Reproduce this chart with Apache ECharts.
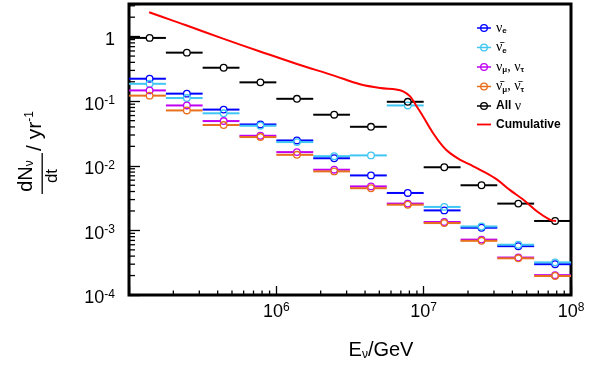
<!DOCTYPE html>
<html><head><meta charset="utf-8">
<script src="https://cdn.jsdelivr.net/npm/echarts@6.0.0/dist/echarts.min.js"></script>
<style>html,body{margin:0;padding:0;background:#fff}#c{width:600px;height:368px}</style>
</head><body><div id="c"></div>
<script>
// ---- data ----
const binLow    = [1.0e5, 1.78e5, 3.16e5, 5.62e5, 1.0e6, 1.78e6, 3.16e6, 5.62e6, 1.0e7, 1.78e7, 3.16e7, 5.62e7];
const binHigh   = [1.78e5, 3.16e5, 5.62e5, 1.0e6, 1.78e6, 3.16e6, 5.62e6, 1.0e7, 1.78e7, 3.16e7, 5.62e7, 1.0e8];
const binCenter = [1.38e5, 2.47e5, 4.39e5, 7.8e5, 1.38e6, 2.47e6, 4.39e6, 7.8e6, 1.38e7, 2.47e7, 4.39e7, 7.8e7];

const nuE     = [0.223, 0.131, 0.0742, 0.0437, 0.0247, 0.0131, 0.0071, 0.0038, 0.00204, 0.00110, 0.00057, 0.000300];
const nuEbar  = [0.186, 0.112, 0.065, 0.0417, 0.0233, 0.0141, 0.0145, 0.086, 0.00231, 0.00115, 0.00060, 0.000320];
const nuMuTau = [0.147, 0.086, 0.0493, 0.0292, 0.0163, 0.0087, 0.0048, 0.0026, 0.00135, 0.00072, 0.00038, 0.000203];
const nuMuTauBar = [0.122, 0.072, 0.0428, 0.0279, 0.0148, 0.0082, 0.0045, 0.0025, 0.0013, 0.00069, 0.00037, 0.000197];
const allNu   = [0.955, 0.565, 0.33, 0.196, 0.109, 0.0618, 0.0402, 0.098, 0.0095, 0.0050, 0.0026, 0.0014];

const cumE   = [1.37e5, 1.90e5, 2.44e5, 4.35e5, 7.75e5, 1.38e6, 2.46e6, 3.70e6, 5.06e6, 6.50e6, 7.25e6, 8.09e6, 8.88e6, 9.91e6, 1.16e7, 1.35e7, 1.51e7, 1.77e7, 2.07e7, 2.53e7, 3.15e7, 3.86e7, 4.73e7, 5.89e7, 7.21e7, 7.92e7];
const cumVal = [2.38, 1.83, 1.50, 0.93, 0.59, 0.377, 0.249, 0.183, 0.160, 0.152, 0.142, 0.119, 0.086, 0.058, 0.032, 0.020, 0.0157, 0.0124, 0.0104, 0.0082, 0.0061, 0.0042, 0.0030, 0.00196, 0.00146, 0.0014];

const xTickVals = [1e5, 1e6, 1e7, 1e8];
const yTickVals = [1e-4, 1e-3, 1e-2, 1e-1, 1];
const xMin = 1e5, xMax = 1e8, yMin = 1e-4, yMax = 3.2;

// ---- minor tick decoration values ----
const minorX = [], minorY = [];
for (let e = 5; e < 8; e++) for (let d = 2; d <= 9; d++) minorX.push(d * Math.pow(10, e));
for (let e = -4; e <= 0; e++) for (let d = 2; d <= 9; d++) { const v = d * Math.pow(10, e); if (v < yMax) minorY.push(v); }

const FONT = 'Liberation Sans';
const colors = {nue:'#0000ff', nuebar:'#3fc6f2', numu:'#c000f2', numubar:'#e8701c', all:'#000000', cum:'#ff0000'};

function expOf(v){ const l = Math.log10(v); const r = Math.round(l); return Math.abs(l - r) < 0.01 ? r : null; }
function powLabel(v, skip){
  const e = expOf(v);
  if (e === null || (skip && skip.indexOf(e) >= 0)) return '';
  if (e === 0) return '{b|1}';
  return '{b|10}{s|' + e + '}';
}
const powRich = {
  b: {fontFamily: FONT, fontSize: 18, color: '#000', lineHeight: 20},
  s: {fontFamily: FONT, fontSize: 12, color: '#000', lineHeight: 10, verticalAlign: 'top'}
};

function binSeries(name, vals, color){
  return {
    name: name, type: 'custom', coordinateSystem: 'cartesian2d', clip: false, silent: true,
    itemStyle: {color: color},
    encode: {x: [0, 1, 2], y: 3},
    data: binLow.map((l, i) => [l, binHigh[i], binCenter[i], vals[i]]),
    renderItem: function(params, api){
      const y = api.value(3);
      const pL = api.coord([api.value(0), y]);
      const pH = api.coord([api.value(1), y]);
      const pC = api.coord([api.value(2), y]);
      const r = 3.3;
      return {type: 'group', children: [
        {type: 'line', shape: {x1: pL[0], y1: pL[1], x2: pC[0] - r, y2: pC[1]}, style: {stroke: color, lineWidth: 2}},
        {type: 'line', shape: {x1: pC[0] + r, y1: pC[1], x2: pH[0], y2: pH[1]}, style: {stroke: color, lineWidth: 2}},
        {type: 'circle', shape: {cx: pC[0], cy: pC[1], r: r}, style: {fill: 'none', stroke: color, lineWidth: 1.3}}
      ]};
    }
  };
}

const ringIcon = 'path://M0,4.3L14,4.3L14,5.7L0,5.7Z M3,5A4,4 0 1,1 11,5A4,4 0 1,1 3,5Z M4.3,5A2.7,2.7 0 1,0 9.7,5A2.7,2.7 0 1,0 4.3,5Z';
const lineIcon = 'path://M0,4.1L14,4.1L14,5.9L0,5.9Z';

const legendNames = {
  nue: '{g|ν}{sb|e}',
  nuebar: '{g|ν\u0304}{sb|e}',
  numu: '{g|ν}{sb|μ}{g|, ν}{sb|τ}',
  numubar: '{g|ν\u0304}{sb|μ}{g|, ν\u0304}{sb|τ}',
  all: '{bd|All} {g|ν}',
  cum: '{bd|Cumulative}'
};

const tickData = minorX.map(v => [v, yMin, 0]).concat(minorY.map(v => [xMin, v, 1]));

const chart = echarts.init(document.getElementById('c'), null, {renderer: 'canvas'});
chart.setOption({
  animation: false,
  backgroundColor: '#fff',
  grid: {left: 129, right: 29, top: 4, bottom: 73, show: true, borderColor: '#000', borderWidth: 3, backgroundColor: 'transparent'},
  xAxis: {
    type: 'log', logBase: 10, min: xMin, max: xMax,
    axisLine: {show: false},
    axisTick: {show: true, inside: true, length: 9, lineStyle: {color: '#000', width: 1.3}},
    splitLine: {show: false},
    axisLabel: {margin: 7, formatter: v => powLabel(v, [5]), rich: powRich}
  },
  yAxis: {
    type: 'log', logBase: 10, min: yMin, max: yMax,
    axisLine: {show: false},
    axisTick: {show: true, inside: true, length: 11, lineStyle: {color: '#000', width: 1.3}},
    splitLine: {show: false},
    axisLabel: {margin: 14, padding: [7, 0, 0, 0], formatter: v => powLabel(v, []), rich: powRich}
  },
  legend: {
    orient: 'vertical', left: 472, top: 16, itemWidth: 14, itemHeight: 10, itemGap: 5.5,
    selectedMode: false,
    itemStyle: {borderWidth: 0},
    formatter: n => legendNames[n],
    textStyle: {
      rich: {
        g: {fontFamily: 'Liberation Serif', fontSize: 14, color: '#000', lineHeight: 14},
        sb: {fontFamily: FONT, fontSize: 8, fontWeight: 'bold', color: '#000', lineHeight: 8, verticalAlign: 'bottom'},
        bd: {fontFamily: FONT, fontSize: 12, fontWeight: 'bold', color: '#000', lineHeight: 14}
      }
    },
    data: [
      {name: 'nue', icon: ringIcon},
      {name: 'nuebar', icon: ringIcon},
      {name: 'numu', icon: ringIcon},
      {name: 'numubar', icon: ringIcon},
      {name: 'all', icon: ringIcon},
      {name: 'cum', icon: lineIcon}
    ]
  },
  series: [
    {
      name: 'minorTicks', type: 'custom', coordinateSystem: 'cartesian2d', clip: false, silent: true,
      encode: {x: 0, y: 1},
      data: tickData,
      renderItem: function(params, api){
        const p = api.coord([api.value(0), api.value(1)]);
        if (api.value(2) === 0) {
          return {type: 'line', shape: {x1: p[0], y1: p[1], x2: p[0], y2: p[1] - 4.5}, style: {stroke: '#000', lineWidth: 1.3}};
        }
        return {type: 'line', shape: {x1: p[0], y1: p[1], x2: p[0] + 6, y2: p[1]}, style: {stroke: '#000', lineWidth: 1.3}};
      }
    },
    binSeries('nue', nuE, colors.nue),
    binSeries('nuebar', nuEbar, colors.nuebar),
    binSeries('numu', nuMuTau, colors.numu),
    binSeries('numubar', nuMuTauBar, colors.numubar),
    binSeries('all', allNu, colors.all),
    {
      name: 'cum', type: 'line', smooth: 0.35, showSymbol: false, symbol: 'none', silent: true,
      lineStyle: {color: colors.cum, width: 2}, itemStyle: {color: colors.cum},
      data: cumE.map((e, i) => [e, cumVal[i]])
    }
  ],
  graphic: [
    {
      type: 'text', x: 381, y: 350, silent: true,
      style: {
        text: '{a|E}{sb|ν}{a|/GeV}', align: 'center', verticalAlign: 'middle',
        rich: {
          a: {fontFamily: FONT, fontSize: 20, color: '#000', lineHeight: 22},
          sb: {fontFamily: FONT, fontSize: 12, color: '#000', lineHeight: 11, verticalAlign: 'bottom'}
        }
      }
    },
    {
      type: 'group', x: 38, y: 150, rotation: Math.PI / 2, silent: true,
      children: [
        {type: 'text', x: -26, y: -12, style: {
          text: '{a|dN}{sb|ν}', align: 'center', verticalAlign: 'middle',
          rich: {
            a: {fontFamily: FONT, fontSize: 20, color: '#000', lineHeight: 20},
            sb: {fontFamily: FONT, fontSize: 12, color: '#000', lineHeight: 10, verticalAlign: 'bottom'}
          }
        }},
        {type: 'line', shape: {x1: -44, y1: 4.2, x2: -3, y2: 4.2}, style: {stroke: '#000', lineWidth: 1.3}},
        {type: 'text', x: -26, y: 14, style: {
          text: 'dt', align: 'center', verticalAlign: 'middle', fontFamily: FONT, fontSize: 17, fill: '#000'
        }},
        {type: 'text', x: -1, y: -3, style: {
          text: '{a|/ yr}{sp|-1}', align: 'left', verticalAlign: 'middle',
          rich: {
            a: {fontFamily: FONT, fontSize: 21, color: '#000', lineHeight: 22},
            sp: {fontFamily: FONT, fontSize: 12, color: '#000', lineHeight: 10, verticalAlign: 'top'}
          }
        }}
      ]
    }
  ]
});
</script>
</body></html>
